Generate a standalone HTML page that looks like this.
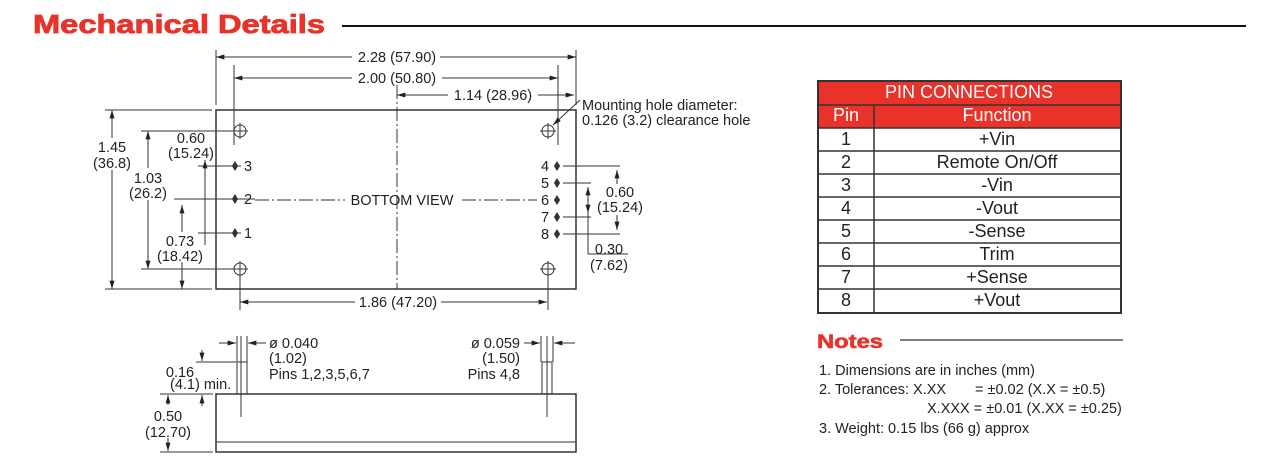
<!DOCTYPE html>
<html><head><style>
html,body{margin:0;padding:0;background:#fff;}
svg{display:block;font-family:"Liberation Sans",Arial,sans-serif;}
</style></head><body>
<svg width="1280" height="459" viewBox="0 0 1280 459" xmlns="http://www.w3.org/2000/svg">
<defs>
<marker id="a" viewBox="0 0 10 6" refX="10" refY="3" markerWidth="9" markerHeight="5" orient="auto-start-reverse"><path d="M0,0L10,3L0,6z" fill="#222"/></marker>
</defs>
<text x="33" y="33" font-size="26" font-weight="bold" fill="#e8322a" stroke="#e8322a" stroke-width="0.8" textLength="292" lengthAdjust="spacingAndGlyphs">Mechanical Details</text>
<line x1="342" y1="26" x2="1246" y2="26" stroke="#111" stroke-width="2"/>

<g stroke="#333" stroke-width="1" fill="none">
<rect x="216" y="110" width="360" height="179" stroke-width="1.5"/>
<line x1="216" y1="50" x2="216" y2="105"/><line x1="576" y1="50" x2="576" y2="105"/>
<line x1="234" y1="65" x2="234" y2="145"/><line x1="558" y1="65" x2="558" y2="145"/>
<line x1="397" y1="85" x2="397" y2="289" stroke-dasharray="14,3,2,3"/>
<line x1="216" y1="57" x2="352" y2="57" marker-start="url(#a)"/><line x1="440" y1="57" x2="576" y2="57" marker-end="url(#a)"/>
<line x1="234" y1="78" x2="352" y2="78" marker-start="url(#a)"/><line x1="442" y1="78" x2="558" y2="78" marker-end="url(#a)"/>
<line x1="397" y1="95" x2="448" y2="95" marker-start="url(#a)"/><line x1="538" y1="95" x2="574" y2="95" marker-end="url(#a)"/>
<line x1="580" y1="100" x2="553" y2="125" marker-end="url(#a)"/>
<g>
<circle cx="240" cy="131" r="6"/><line x1="232" y1="131" x2="248" y2="131"/><line x1="240" y1="123" x2="240" y2="139"/>
<circle cx="548" cy="131" r="6"/><line x1="540" y1="131" x2="556" y2="131"/><line x1="548" y1="123" x2="548" y2="139"/>
<circle cx="240" cy="269" r="6"/><line x1="232" y1="269" x2="248" y2="269"/><line x1="240" y1="261" x2="240" y2="277"/>
<circle cx="548" cy="269" r="6"/><line x1="540" y1="269" x2="556" y2="269"/><line x1="548" y1="261" x2="548" y2="277"/>
</g>
<line x1="255" y1="200" x2="345" y2="200" stroke-dasharray="14,3,2,3"/>
<line x1="462" y1="200" x2="537" y2="200" stroke-dasharray="14,3,2,3"/>
<line x1="105" y1="110" x2="212" y2="110"/><line x1="105" y1="289" x2="212" y2="289"/>
<line x1="112" y1="110" x2="112" y2="138" marker-start="url(#a)"/><line x1="112" y1="170" x2="112" y2="289" marker-end="url(#a)"/>
<line x1="141" y1="131" x2="232" y2="131"/><line x1="141" y1="269" x2="232" y2="269"/>
<line x1="148" y1="131" x2="148" y2="168" marker-start="url(#a)"/><line x1="148" y1="200" x2="148" y2="269" marker-end="url(#a)"/>
<line x1="198" y1="166" x2="230" y2="166"/><line x1="198" y1="233" x2="230" y2="233"/>
<line x1="205" y1="160" x2="205" y2="245" marker-start="url(#a)"/>
<line x1="174" y1="199" x2="230" y2="199"/>
<line x1="182" y1="205" x2="182" y2="232" marker-start="url(#a)"/><line x1="182" y1="262" x2="182" y2="289" marker-end="url(#a)"/>
<line x1="563" y1="166" x2="620" y2="166"/><line x1="563" y1="234" x2="620" y2="234"/>
<line x1="617" y1="170" x2="617" y2="184" marker-start="url(#a)"/><line x1="617" y1="215" x2="617" y2="230" marker-end="url(#a)"/>
<line x1="563" y1="183" x2="591" y2="183"/><line x1="563" y1="217" x2="591" y2="217"/>
<line x1="588" y1="187" x2="588" y2="213" marker-start="url(#a)" marker-end="url(#a)"/>
<line x1="588" y1="213" x2="588" y2="254"/><line x1="588" y1="254" x2="628" y2="254"/>
<line x1="240" y1="276" x2="240" y2="310"/><line x1="548" y1="276" x2="548" y2="310"/>
<line x1="240" y1="302" x2="355" y2="302" marker-start="url(#a)"/><line x1="441" y1="302" x2="547" y2="302" marker-end="url(#a)"/>
<rect x="216" y="394" width="360" height="58" stroke-width="1.5"/>
<line x1="216" y1="442" x2="576" y2="442"/>
<rect x="237" y="362" width="10" height="32"/><rect x="542" y="362" width="10" height="32"/>
<line x1="241" y1="336" x2="241" y2="417"/><line x1="547" y1="336" x2="547" y2="417"/>
<line x1="237" y1="336" x2="237" y2="362"/><line x1="247" y1="336" x2="247" y2="362"/>
<line x1="541" y1="336" x2="541" y2="362"/><line x1="553" y1="336" x2="553" y2="362"/>
<line x1="219" y1="343" x2="236" y2="343" marker-end="url(#a)"/><line x1="266" y1="343" x2="248" y2="343" marker-end="url(#a)"/>
<line x1="524" y1="343" x2="540" y2="343" marker-end="url(#a)"/><line x1="575" y1="343" x2="554" y2="343" marker-end="url(#a)"/>
<line x1="196" y1="362" x2="236" y2="362"/>
<line x1="202" y1="350" x2="202" y2="361" marker-end="url(#a)"/><line x1="202" y1="406" x2="202" y2="395" marker-end="url(#a)"/>
<line x1="160" y1="394" x2="213" y2="394"/><line x1="160" y1="452" x2="213" y2="452"/>
<line x1="168" y1="405" x2="168" y2="395" marker-end="url(#a)"/><line x1="168" y1="438" x2="168" y2="451" marker-end="url(#a)"/>
</g>
<g fill="#333" stroke="#333">
<g><path d="M235,162 L237.5,166 L235,170 L232.5,166z"/><line x1="229" y1="166" x2="241" y2="166"/></g>
<g><path d="M235,195 L237.5,199 L235,203 L232.5,199z"/><line x1="229" y1="199" x2="255" y2="199"/></g>
<g><path d="M235,229 L237.5,233 L235,237 L232.5,233z"/><line x1="229" y1="233" x2="241" y2="233"/></g>
<path d="M557,162 L559.5,166 L557,170 L554.5,166z"/><path d="M557,179 L559.5,183 L557,187 L554.5,183z"/><path d="M557,196 L559.5,200 L557,204 L554.5,200z"/><path d="M557,213 L559.5,217 L557,221 L554.5,217z"/><path d="M557,230 L559.5,234 L557,238 L554.5,234z"/>
</g>
<g font-size="14.5" fill="#222">
<text x="397" y="62" text-anchor="middle">2.28 (57.90)</text>
<text x="397" y="83" text-anchor="middle">2.00 (50.80)</text>
<text x="493" y="100" text-anchor="middle">1.14 (28.96)</text>
<text x="582" y="110">Mounting hole diameter:</text>
<text x="582" y="125">0.126 (3.2) clearance hole</text>
<text x="112" y="152" text-anchor="middle">1.45</text><text x="112" y="168" text-anchor="middle">(36.8)</text>
<text x="148" y="183" text-anchor="middle">1.03</text><text x="148" y="198" text-anchor="middle">(26.2)</text>
<text x="191" y="143" text-anchor="middle">0.60</text><text x="191" y="158" text-anchor="middle">(15.24)</text>
<text x="180" y="246" text-anchor="middle">0.73</text><text x="180" y="261" text-anchor="middle">(18.42)</text>
<text x="244" y="171">3</text><text x="244" y="204">2</text><text x="244" y="238">1</text>
<text x="541" y="171">4</text><text x="541" y="188">5</text><text x="541" y="205">6</text><text x="541" y="222">7</text><text x="541" y="239">8</text>
<text x="402" y="205" text-anchor="middle">BOTTOM VIEW</text>
<text x="620" y="197" text-anchor="middle">0.60</text><text x="620" y="212" text-anchor="middle">(15.24)</text>
<text x="609" y="254" text-anchor="middle">0.30</text><text x="609" y="270" text-anchor="middle">(7.62)</text>
<text x="398" y="307" text-anchor="middle">1.86 (47.20)</text>
<text x="269" y="348">ø 0.040</text><text x="269" y="363">(1.02)</text><text x="269" y="379">Pins 1,2,3,5,6,7</text>
<text x="520" y="348" text-anchor="end">ø 0.059</text><text x="520" y="363" text-anchor="end">(1.50)</text><text x="520" y="379" text-anchor="end">Pins 4,8</text>
<text x="180" y="377" text-anchor="middle">0.16</text><text x="170" y="389">(4.1) min.</text>
<text x="168" y="421" text-anchor="middle">0.50</text><text x="168" y="437" text-anchor="middle">(12.70)</text>
</g>

<rect x="818" y="81" width="303" height="47" fill="#e8322a"/>
<g stroke="#333" stroke-width="1.5" fill="none">
<rect x="818" y="81" width="303" height="232" stroke-width="2"/>
<line x1="818" y1="105" x2="1121" y2="105"/>
<line x1="818" y1="128" x2="1121" y2="128"/><line x1="818" y1="151" x2="1121" y2="151"/><line x1="818" y1="174" x2="1121" y2="174"/><line x1="818" y1="197" x2="1121" y2="197"/><line x1="818" y1="220" x2="1121" y2="220"/><line x1="818" y1="243" x2="1121" y2="243"/><line x1="818" y1="266" x2="1121" y2="266"/><line x1="818" y1="289" x2="1121" y2="289"/>
<line x1="874" y1="105" x2="874" y2="313"/>
</g>
<g font-size="18" text-anchor="middle">
<text x="969" y="98" fill="#fff">PIN CONNECTIONS</text>
<text x="846" y="121" fill="#fff">Pin</text><text x="997" y="121" fill="#fff">Function</text>
<g fill="#222">
<text x="846" y="145">1</text><text x="997" y="145">+Vin</text>
<text x="846" y="168">2</text><text x="997" y="168">Remote On/Off</text>
<text x="846" y="191">3</text><text x="997" y="191">-Vin</text>
<text x="846" y="214">4</text><text x="997" y="214">-Vout</text>
<text x="846" y="237">5</text><text x="997" y="237">-Sense</text>
<text x="846" y="260">6</text><text x="997" y="260">Trim</text>
<text x="846" y="283">7</text><text x="997" y="283">+Sense</text>
<text x="846" y="306">8</text><text x="997" y="306">+Vout</text>
</g></g>
<text x="817" y="348" font-size="19" font-weight="bold" fill="#e8322a" stroke="#e8322a" stroke-width="0.6" textLength="66" lengthAdjust="spacingAndGlyphs">Notes</text>
<line x1="900" y1="340" x2="1123" y2="340" stroke="#333" stroke-width="1.2"/>
<g font-size="14.5" fill="#222">
<text x="819" y="375">1. Dimensions are in inches (mm)</text>
<text x="819" y="394">2. Tolerances: X.XX <tspan x="975">= ±0.02 (X.X = ±0.5)</tspan></text>
<text x="927" y="413">X.XXX = ±0.01 (X.XX = ±0.25)</text>
<text x="819" y="433">3. Weight: 0.15 lbs (66 g) approx</text>
</g>
</svg>
</body></html>
